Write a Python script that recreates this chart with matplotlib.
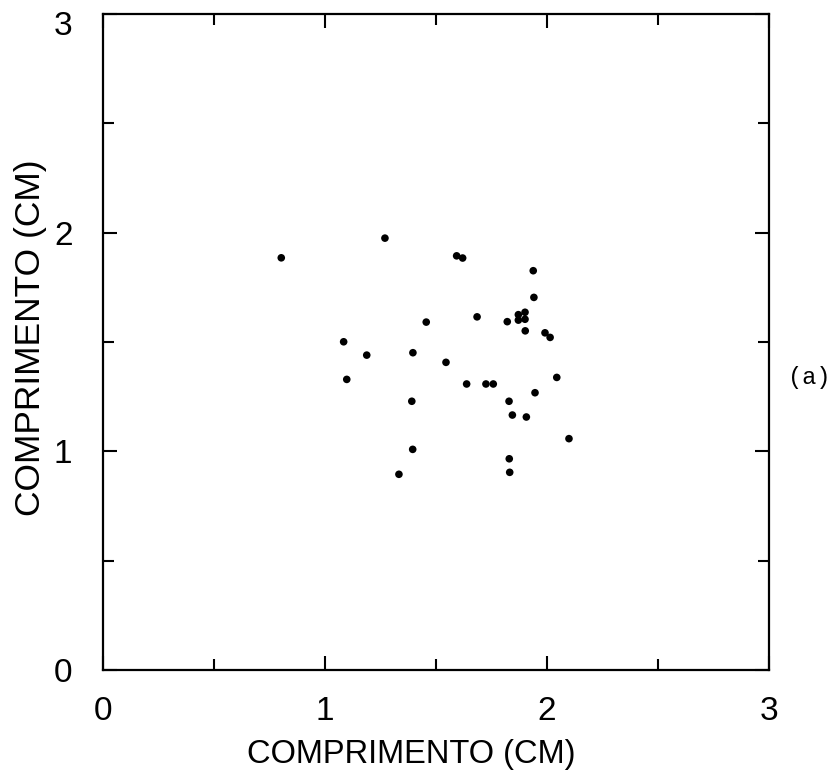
import matplotlib
matplotlib.use("Agg")
import matplotlib.pyplot as plt
import matplotlib.transforms as mtransforms
from matplotlib.ticker import MultipleLocator

# Data (cm)
x_vals = [0.803, 1.270, 1.593, 1.620, 1.938, 1.941, 1.871, 1.871, 1.901, 1.901,
          1.685, 1.821, 1.902, 1.991, 2.014, 1.456, 1.084, 1.188, 1.396, 1.545,
          1.098, 1.638, 1.725, 1.758, 2.044, 1.946, 1.829, 1.391, 1.844, 1.907,
          2.099, 1.395, 1.830, 1.333, 1.832]
y_vals = [1.885, 1.975, 1.894, 1.884, 1.826, 1.704, 1.625, 1.600, 1.636, 1.604,
          1.615, 1.593, 1.551, 1.542, 1.521, 1.591, 1.501, 1.440, 1.451, 1.407,
          1.329, 1.308, 1.308, 1.308, 1.338, 1.268, 1.229, 1.229, 1.166, 1.157,
          1.058, 1.009, 0.966, 0.895, 0.904]

x_label = "COMPRIMENTO (CM)"
y_label = "COMPRIMENTO (CM)"
tick_vals = [0, 1, 2, 3]
tick_labels = ["0", "1", "2", "3"]
panel_tag = "(a)"

plt.rcParams['font.family'] = ['Liberation Sans', 'DejaVu Sans']

fig = plt.figure(figsize=(8.4, 7.81), dpi=100)
ax = fig.add_axes([103/840, 1 - 670/781, 666/840, 656/781])

ax.scatter(x_vals, y_vals, s=30, color='black', edgecolors='none', zorder=3)

ax.set_xlim(0, 3)
ax.set_ylim(0, 3)
ax.set_xticks(tick_vals)
ax.set_xticklabels(tick_labels)
ax.set_yticks(tick_vals)
ax.set_yticklabels(tick_labels)
ax.xaxis.set_minor_locator(MultipleLocator(0.5))
ax.yaxis.set_minor_locator(MultipleLocator(0.5))

ax.tick_params(which='both', direction='in', top=True, right=True,
               width=1.5, colors='black', labelsize=24)
ax.tick_params(which='major', length=10)
ax.tick_params(which='minor', length=8)
ax.tick_params(axis='x', which='major', pad=19)
ax.tick_params(axis='y', which='major', pad=22)

# the top y label sits a little lower in the reference
top_lbl = ax.get_yticklabels()[-1]
top_lbl.set_transform(top_lbl.get_transform() +
                      mtransforms.ScaledTranslation(0, -9/100, fig.dpi_scale_trans))

for sp in ax.spines.values():
    sp.set_linewidth(1.6)
    sp.set_color('black')

ax.set_xlabel(x_label, fontsize=23.5)
ax.set_ylabel(y_label, fontsize=25.5)
ax.xaxis.set_label_coords((411 - 103) / 666, -(754 - 670) / 656)
ax.yaxis.set_label_coords(-(103 - 31) / 666, (670 - 338) / 656)
ax.xaxis.label.set_va('center')
ax.yaxis.label.set_va('center')

fig.text(809/840, 1 - 378/781, panel_tag, fontsize=17,
         family=['Liberation Mono', 'DejaVu Sans Mono'],
         ha='center', va='center')

fig.savefig("out.png", dpi=100, facecolor='white')
